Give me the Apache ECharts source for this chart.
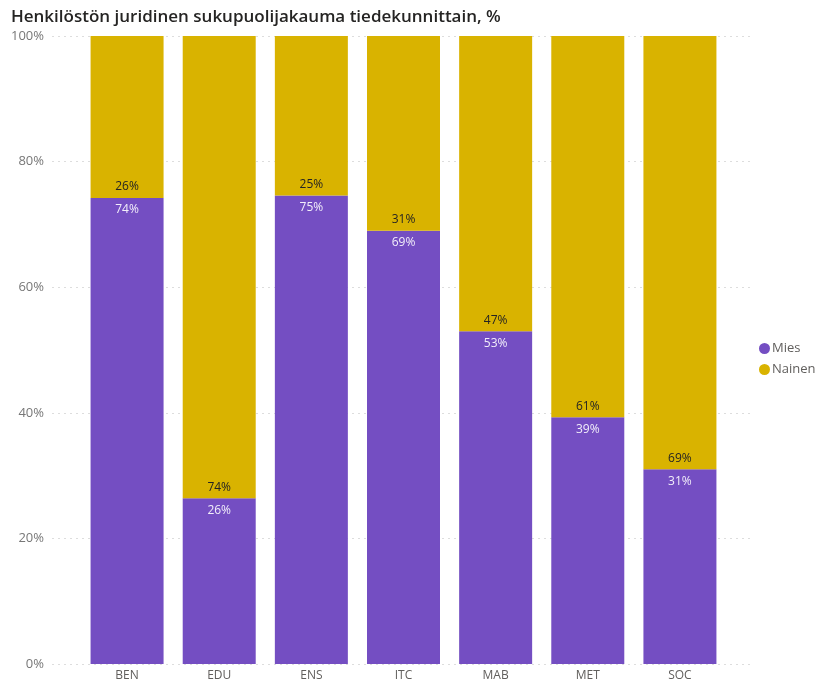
<!DOCTYPE html>
<html>
<head>
<meta charset="utf-8">
<script src="https://cdn.jsdelivr.net/npm/echarts@6/dist/echarts.min.js"></script>
<style>
html, body { margin: 0; padding: 0; background: #fff; }
#chart { width: 821px; height: 684px; }
</style>
</head>
<body>
<div id="chart"></div>
<script>
const categories = ['BEN', 'EDU', 'ENS', 'ITC', 'MAB', 'MET', 'SOC'];
const mies = [74.2, 26.4, 74.6, 69.0, 53.0, 39.3, 31.0];
const nainen = [25.8, 73.6, 25.4, 31.0, 47.0, 60.7, 69.0];
const yTicks = [0, 20, 40, 60, 80, 100];

const chart = echarts.init(document.getElementById('chart'));
const option = {
    animation: false,
    title: {
        text: 'Henkilöstön juridinen sukupuolijakauma tiedekunnittain, %',
        left: 6,
        top: 4,
        textStyle: { fontFamily: 'Open Sans', fontSize: 17, fontWeight: 600, color: '#252423' }
    },
    legend: {
        orient: 'vertical',
        left: 754,
        top: 337,
        icon: 'circle',
        itemWidth: 11,
        itemHeight: 11,
        itemGap: 8,
        textStyle: { fontFamily: 'Open Sans', fontSize: 13, color: '#605E5C', padding: [0, 0, 0, -3] },
        data: ['Mies', 'Nainen']
    },
    grid: [
        { left: 52, width: 698, top: 36, bottom: 20 },
        { left: 81, width: 645, top: 36, bottom: 20 }
    ],
    xAxis: [
        { gridIndex: 0, type: 'category', data: categories, show: false },
        {
            gridIndex: 1, type: 'category', data: categories,
            axisLine: { show: false }, axisTick: { show: false },
            axisLabel: { color: '#605E5C', fontFamily: 'Open Sans', fontSize: 12, margin: 6 }
        }
    ],
    yAxis: [
        {
            gridIndex: 0, type: 'value', min: 0, max: 100, interval: 20,
            axisLabel: {
                color: '#777', fontFamily: 'Open Sans', fontSize: 13, margin: 8,
                formatter: v => yTicks.includes(v) ? v + '%' : ''
            },
            splitLine: { lineStyle: { color: '#ddd', type: [2, 4], width: 1 } }
        },
        {
            gridIndex: 1, type: 'value', min: 0, max: 100, interval: 20,
            axisLabel: { show: false }, splitLine: { show: false }
        }
    ],
    series: [
        {
            name: 'Mies', type: 'bar', stack: 'total', xAxisIndex: 1, yAxisIndex: 1,
            data: mies, barWidth: 73,
            itemStyle: { color: '#744EC2' },
            label: {
                show: true, position: 'insideTop', distance: 6,
                color: '#f2eefa', fontFamily: 'Open Sans', fontSize: 12,
                formatter: p => Math.round(p.value) + '%'
            }
        },
        {
            name: 'Nainen', type: 'bar', stack: 'total', xAxisIndex: 1, yAxisIndex: 1,
            data: nainen, barWidth: 73,
            itemStyle: { color: '#D9B300' },
            label: {
                show: true, position: 'insideBottom', distance: 5,
                color: '#252423', fontFamily: 'Open Sans', fontSize: 12,
                formatter: p => Math.round(p.value) + '%'
            }
        }
    ]
};
chart.setOption(option);
</script>
</body>
</html>
